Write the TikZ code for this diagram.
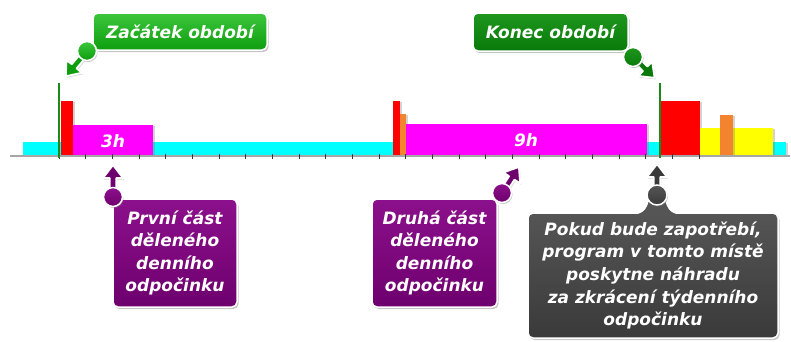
\documentclass[tikz,border=0pt]{standalone}
\usepackage{fontspec}
\setmainfont{DejaVu Sans}
\usetikzlibrary{arrows.meta,shadows}
\definecolor{cyanbar}{HTML}{00FFFF}
\definecolor{redbar}{HTML}{FF0000}
\definecolor{magbar}{HTML}{FF00FF}
\definecolor{orbar}{HTML}{F4832F}
\definecolor{yelbar}{HTML}{FFFF00}
\definecolor{gline}{HTML}{1A8A1A}
\definecolor{gtopA}{HTML}{3CC63C}
\definecolor{gbotA}{HTML}{0E9E0E}
\definecolor{gtopB}{HTML}{1E961E}
\definecolor{gbotB}{HTML}{097A09}
\definecolor{ptop}{HTML}{8C108C}
\definecolor{pbot}{HTML}{6E006E}
\definecolor{ktop}{HTML}{555555}
\definecolor{kbot}{HTML}{3A3A3A}
\newcommand\lab{\fontsize{17}{22.6}\selectfont\bfseries\itshape}
\begin{document}
\begin{tikzpicture}[x=1pt,y=-1pt,
  bar/.style={drop shadow={opacity=0.35,shadow xshift=1.5pt,shadow yshift=-1pt}},
  barlab/.style={text=white,font=\lab,inner sep=0pt},
  axisline/.style={draw=black!35,line width=1.5pt},
  tickmark/.style={draw=black!80,line width=1pt},
  greenline/.style={draw=gline,line width=1.6pt},
  callbox/.style={rounded corners=5pt,draw=white,line width=1.5pt,inner sep=0pt,
    text=white,font=\lab,align=center,
    drop shadow={opacity=0.45,shadow xshift=1.5pt,shadow yshift=-2pt}},
  dot/.style={circle,minimum size=19pt,inner sep=0pt,draw=white,line width=1.5pt,
    drop shadow={opacity=0.45,shadow xshift=1pt,shadow yshift=-1.5pt}},
  pics/carrow/.style args={#1/#2}{code={
    \filldraw[fill=#1,draw=white,line width=1.8pt,line join=round,
      drop shadow={opacity=0.35,shadow xshift=1pt,shadow yshift=-1.5pt}]
      (0pt,-3.2pt) -- ({#2*1pt-13pt},-3.2pt) -- ({#2*1pt-13pt},-10pt) -- ({#2*1pt},0pt)
      -- ({#2*1pt-13pt},10pt) -- ({#2*1pt-13pt},3.2pt) -- (0pt,3.2pt) -- cycle;}}
]
\useasboundingbox (0,0) rectangle (791,341);

% bars
\fill[bar,cyanbar] (23,142) rectangle (786,155);
\fill[bar,redbar] (61,101) rectangle (73,155);
\fill[bar,magbar] (73,125) rectangle (153,155);
\fill[bar,redbar] (393,101) rectangle (400,155);
\fill[bar,orbar] (400,114) rectangle (406,155);
\fill[bar,magbar] (406,124) rectangle (647,155);
\fill[bar,redbar] (661,101) rectangle (700,155);
\fill[bar,yelbar] (700,128) rectangle (773,155);
\fill[bar,orbar] (720,115) rectangle (733,155);

% axis and ticks
\draw[axisline] (10,156) -- (790,156);
\foreach \k in {0,...,24} \draw[tickmark] ({59+26.667*\k},154) -- ++(0,5);

% period limits
\draw[greenline] (59,83) -- (59,158);
\draw[greenline] (660,83) -- (660,158);

\node[barlab] (h3) at (113,141) {3h};
\node[barlab] (h9) at (526,140) {9h};

% Zacatek obdobi
\node[callbox,top color=gtopA,bottom color=gbotA,minimum width=174pt,minimum height=37pt] (zac) at (180,31.5) {Začátek období};
\coordinate (zcc) at (87,51);
\pic[rotate=-130] at (zcc) {carrow=gbotA/33};
\node[dot,top color=gtopA,bottom color=gbotA] (zc) at (zcc) {};

% Konec obdobi
\node[callbox,top color=gtopB,bottom color=gbotB,minimum width=155pt,minimum height=38pt] (kon) at (550.5,32) {Konec období};
\coordinate (kcc) at (633,57);
\pic[rotate=-44] at (kcc) {carrow=gbotB/30};
\node[dot,top color=gtopB,bottom color=gbotB] (kc) at (kcc) {};

% Prvni cast
\node[callbox,top color=ptop,bottom color=pbot,minimum width=124pt,minimum height=108pt] (p1) at (175,253) {První část\\děleného\\denního\\odpočinku};
\coordinate (p1cc) at (113,197);
\pic[rotate=90] at (p1cc) {carrow=pbot/32};
\node[dot,top color=ptop,bottom color=pbot] (p1c) at (p1cc) {};

% Druha cast
\node[callbox,top color=ptop,bottom color=pbot,minimum width=125pt,minimum height=108pt] (p2) at (434.5,253) {Druhá část\\děleného\\denního\\odpočinku};
\coordinate (p2cc) at (502,193);
\pic[rotate=57] at (p2cc) {carrow=pbot/31};
\node[dot,top color=ptop,bottom color=pbot] (p2c) at (p2cc) {};

% Nahrada
\node[callbox,top color=ktop,bottom color=kbot,minimum width=250pt,minimum height=125pt] (gr) at (653,275.5) {Pokud bude zapotřebí,\\program v tomto místě\\poskytne náhradu\\za zkrácení týdenního\\odpočinku};
\fill[ktop] (634,215) .. controls (645,213) and (646,208) .. (648,202) -- (666,202) .. controls (668,208) and (669,213) .. (680,215) -- cycle;
\draw[white,line width=1.5pt] (634,213) .. controls (645,212) and (646,207) .. (648,201);
\draw[white,line width=1.5pt] (680,213) .. controls (669,212) and (668,207) .. (666,201);
\coordinate (gcc) at (657,195);
\pic[rotate=90] at (gcc) {carrow=kbot/31};
\node[dot,top color=ktop,bottom color=kbot,minimum size=20pt] (gc) at (gcc) {};
\end{tikzpicture}
\end{document}
